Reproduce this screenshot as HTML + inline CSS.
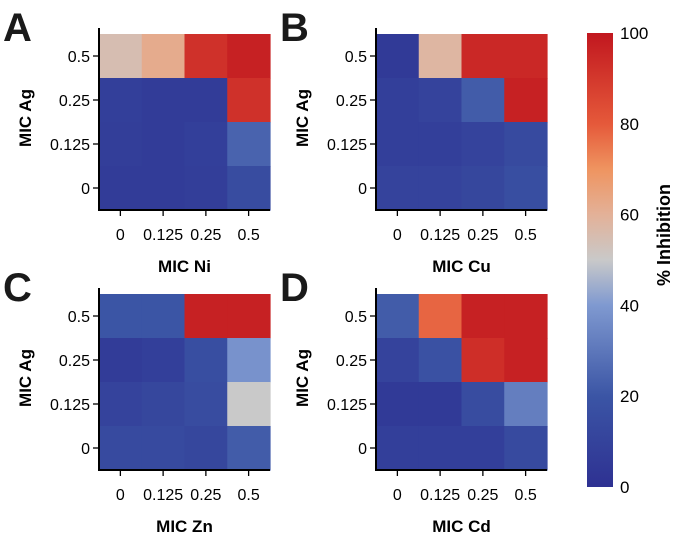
<!DOCTYPE html>
<html><head><meta charset="utf-8">
<style>
html,body{margin:0;padding:0;background:#fff;}
svg{display:block;font-family:"Liberation Sans",Arial,sans-serif;}
</style></head>
<body>
<svg id="fig" width="675" height="537" viewBox="0 0 675 537" xmlns="http://www.w3.org/2000/svg">
<defs>
<linearGradient id="cbar" x1="0" y1="1" x2="0" y2="0">
<stop offset="0" stop-color="#2e3192"/>
<stop offset="0.2" stop-color="#3b55a5"/>
<stop offset="0.4" stop-color="#7f99d0"/>
<stop offset="0.5" stop-color="#c9c9c9"/>
<stop offset="0.6" stop-color="#e3b198"/>
<stop offset="0.7" stop-color="#ef9460"/>
<stop offset="0.8" stop-color="#e5593a"/>
<stop offset="1" stop-color="#c1171f"/>
</linearGradient>
</defs>
<rect x="587" y="33" width="26" height="454" fill="url(#cbar)"/>
<g id="cbticks"></g>
<text transform="translate(670,235) rotate(-90)" text-anchor="middle" font-size="18" font-weight="bold">% Inhibition</text>
</svg>
<script>
const xCats = ["0","0.125","0.25","0.5"];
const yCats = ["0.5","0.25","0.125","0"];
const cbTicks = [0,20,40,60,80,100];
const panelA = [[55,62,92,97],[8,6,6,92],[7,6,8,24],[6,6,7,15]];
const panelB = [[5,58,95,95],[8,10,22,97],[8,8,10,14],[10,10,12,16]];
const panelC = [[20,20,97,97],[6,8,16,38],[10,12,15,50],[14,14,12,22]];
const panelD = [[22,78,97,97],[10,18,93,97],[5,5,15,32],[8,8,8,14]];
const letters = ["A","B","C","D"];
const xTitles = ["MIC Ni","MIC Cu","MIC Zn","MIC Cd"];

const NS="http://www.w3.org/2000/svg";
const svg=document.getElementById('fig');
const stops=[[0,[46,49,146]],[20,[59,85,165]],[40,[127,153,208]],[50,[201,201,201]],[60,[227,177,152]],[70,[239,148,96]],[80,[229,89,58]],[100,[193,23,31]]];
function color(v){
  v=Math.max(0,Math.min(100,v));
  for(let i=1;i<stops.length;i++){
    if(v<=stops[i][0]){
      const [a,ca]=stops[i-1],[b,cb]=stops[i];const t=(v-a)/(b-a);
      return 'rgb('+ca.map((c,k)=>Math.round(c+(cb[k]-c)*t)).join(',')+')';
    }
  }
  return 'rgb(193,23,31)';
}
function el(tag,attrs,parent,text){
  const e=document.createElementNS(NS,tag);
  for(const k in attrs)e.setAttribute(k,attrs[k]);
  if(text!==undefined)e.textContent=text;
  (parent||svg).appendChild(e);return e;
}
const panels=[
 {data:panelA,x0:99,y0:34},{data:panelB,x0:376,y0:34},
 {data:panelC,x0:99,y0:294},{data:panelD,x0:376,y0:294}];
const W=171,H=176;
panels.forEach((p,pi)=>{
  const g=el('g',{});
  
  
  const cw=W/xCats.length,ch=H/yCats.length;
  const xs=i=>p.x0+i*cw, ys=j=>p.y0+j*ch;
  p.data.forEach((row,j)=>row.forEach((v,i)=>{
    const r=el('rect',{x:xs(i),y:ys(j),width:cw+0.6,height:ch+0.6,fill:color(v)},g);
    
    
  }));
  el('path',{d:`M${p.x0} ${p.y0-6}V${p.y0+H}H${p.x0+W}`,stroke:'#000','stroke-width':2,fill:'none'},g);
  yCats.forEach((c,j)=>{
    const y=ys(j)+ch/2;
    el('line',{x1:p.x0-6,x2:p.x0,y1:y,y2:y,stroke:'#000','stroke-width':1.3},g);
    const t=el('text',{x:p.x0-9,y:y+6,'text-anchor':'end','font-size':16},g,c);
    
    
  });
  xCats.forEach((c,i)=>{
    const x=xs(i)+cw/2;
    el('line',{x1:x,x2:x,y1:p.y0+H,y2:p.y0+H+6,stroke:'#000','stroke-width':1.3},g);
    const t=el('text',{x:x,y:p.y0+H+30,'text-anchor':'middle','font-size':16},g,c);
    
    
  });
  const xt=el('text',{x:p.x0+W/2,y:p.y0+H+62,'text-anchor':'middle','font-size':17,'font-weight':'bold'},g,xTitles[pi]);
  
  
  const yt=el('text',{transform:`translate(${p.x0-68},${p.y0+H/2-4}) rotate(-90)`,'text-anchor':'middle','font-size':17,'font-weight':'bold'},g,'MIC Ag');
  
  
  const lt=el('text',{x:p.x0-96,y:p.y0+7,'font-size':40,'font-weight':'bold',fill:'#1a1a1a'},g,letters[pi]);
  
  
});
const cb=document.getElementById('cbticks');
cbTicks.forEach(v=>{
  const y=487-v/100*454;
  const t=el('text',{x:620,y:y+6,'font-size':17},cb,String(v));
  
  
});
</script>
</body></html>
